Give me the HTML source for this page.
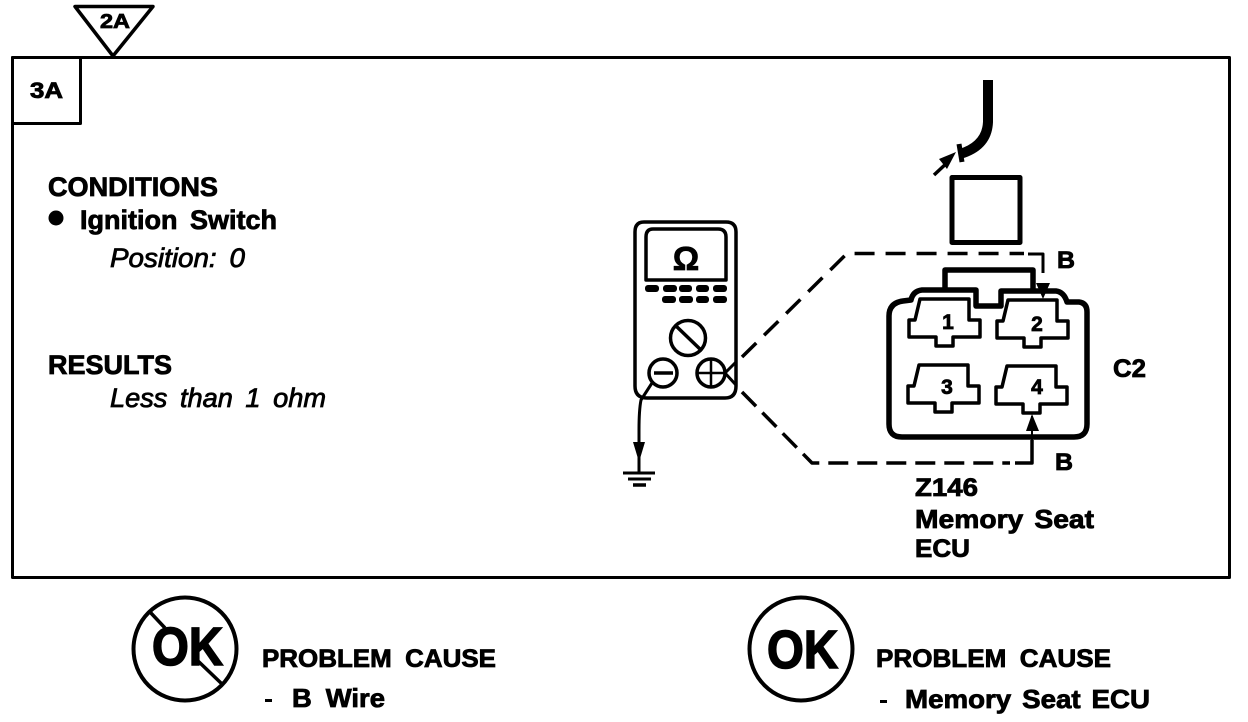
<!DOCTYPE html>
<html><head><meta charset="utf-8"><style>
html,body{margin:0;padding:0;background:#fff;width:1248px;height:722px;overflow:hidden}
svg{display:block}
text{font-family:"Liberation Sans",sans-serif;font-weight:bold;fill:#000;stroke:#000;stroke-width:.8}
.i{font-style:italic;font-weight:normal;stroke-width:.8}
.l{fill:none;stroke:#000;stroke-linejoin:round}
.ok{stroke:#000;stroke-width:1.6}
</style></head><body>
<svg width="1248" height="722" viewBox="0 0 1248 722">
<rect x="12.5" y="57.5" width="1217" height="520" class="l" stroke-width="3"/>
<rect x="12.5" y="57.5" width="68" height="66" class="l" stroke-width="3"/>
<path d="M75 6.5H153L113 56Z" class="l" stroke-width="3.5" style="fill:#fff"/>
<text x="100" y="28" font-size="20" textLength="30" lengthAdjust="spacingAndGlyphs">2A</text>
<text x="30" y="98" font-size="22" textLength="33" lengthAdjust="spacingAndGlyphs">3A</text>

<text x="48" y="196" font-size="27" textLength="170" lengthAdjust="spacingAndGlyphs">CONDITIONS</text>
<circle cx="56" cy="218" r="7.5"/>
<text x="80" y="229" font-size="27" word-spacing="5" textLength="197" lengthAdjust="spacingAndGlyphs">Ignition Switch</text>
<text x="110" y="267" font-size="27" class="i" word-spacing="5" textLength="135" lengthAdjust="spacingAndGlyphs">Position: 0</text>
<text x="48" y="374" font-size="27" textLength="124" lengthAdjust="spacingAndGlyphs">RESULTS</text>
<text x="110" y="407" font-size="27" class="i" word-spacing="5" textLength="216" lengthAdjust="spacingAndGlyphs">Less than 1 ohm</text>

<!-- meter -->
<path d="M644 222H726Q736 222 736 232V386Q736 398 725 398H647Q635 398 635 386V232Q635 222 644 222Z" class="l" stroke-width="3.5"/>
<path d="M653 229H718Q726 229 726 237V280H646V237Q646 229 653 229Z" class="l" stroke-width="3.5"/>
<text x="686" y="270" font-size="33" text-anchor="middle">Ω</text>
<g>
<rect x="645" y="285" width="14" height="7" rx="3"/><rect x="663" y="285" width="14" height="7" rx="3"/><rect x="679" y="285" width="13" height="7" rx="3"/><rect x="696" y="285" width="13" height="7" rx="3"/><rect x="713" y="285" width="14" height="7" rx="3"/>
<rect x="662" y="296" width="14" height="7" rx="3"/><rect x="679" y="296" width="14" height="7" rx="3"/><rect x="696" y="296" width="13" height="7" rx="3"/><rect x="713" y="296" width="14" height="7" rx="3"/>
</g>
<circle cx="688" cy="338" r="17.5" class="l" stroke-width="3.5"/>
<path d="M675 325L702 351" class="l" stroke-width="3.5"/>
<circle cx="663" cy="373" r="14" class="l" stroke-width="3.5"/>
<path d="M654 373H673" class="l" stroke-width="3.5"/>
<circle cx="711" cy="373" r="14" class="l" stroke-width="3.5"/>
<path d="M698 373H725M711 360V387" class="l" stroke-width="2.5"/>
<path d="M652 383L641 400Q639 410 639 430V473" class="l" stroke-width="3"/>
<path d="M633 442H645L639 462Z"/>
<path d="M623 473H655M628 479H651" class="l" stroke-width="3"/>
<path d="M633 485H646" class="l" stroke-width="3.5"/>

<!-- dashed connectors -->
<path d="M725 373L736 362M725 373L736 385" class="l" stroke-width="3"/>
<path d="M742 357L847 253.5H1024" class="l" stroke-width="3.5" stroke-dasharray="20 11"/>
<path d="M1028 254H1043V273" class="l" stroke-width="3"/>
<path d="M742 392L812 463H1010" class="l" stroke-width="3.5" stroke-dasharray="20 9"/>
<path d="M1015 463H1032V440" class="l" stroke-width="3.5"/>
<path d="M1032 440V416" class="l" stroke-width="2"/>
<path d="M1026 431H1039L1032 414Z"/>
<path d="M1036 283H1050L1043 299Z"/>
<text x="1057" y="268" font-size="24" textLength="18" lengthAdjust="spacingAndGlyphs">B</text>
<text x="1055" y="470" font-size="24" textLength="18" lengthAdjust="spacingAndGlyphs">B</text>
<text x="1113" y="377" font-size="25" textLength="33" lengthAdjust="spacingAndGlyphs">C2</text>

<!-- connector -->
<path d="M889 316Q889 303 903 301L911 300Q913 291 922 290H976V306H1001V291H1056Q1064 292 1067 302H1079Q1087 303 1087 312V424Q1087 437 1074 437H902Q889 437 889 424Z" class="l" stroke-width="5.5"/>
<path d="M945 290V270H1033V290" class="l" stroke-width="5.5"/>
<g class="l" stroke-width="3.5">
<path d="M920 299H969V320H980V337H953V346H936V337H909V320H915Z"/>
<path d="M1008 300H1057V321H1068V338H1041V347H1024V338H997V321H1003Z"/>
<path d="M919 365H968V386H979V403H952V412H935V403H908V386H914Z"/>
<path d="M1007 366H1056V387H1067V404H1040V413H1023V404H996V387H1002Z"/>
</g>
<text x="948" y="329" font-size="21" text-anchor="middle">1</text>
<text x="1037" y="331" font-size="21" text-anchor="middle">2</text>
<text x="947" y="394" font-size="21" text-anchor="middle">3</text>
<text x="1037" y="394" font-size="21" text-anchor="middle">4</text>

<!-- top plug -->
<path d="M988 80V122Q987 146 960 154" class="l" stroke-width="10"/>
<path d="M959 144L962 162" class="l" stroke-width="5"/>
<path d="M934 175L949 161" class="l" stroke-width="3.5"/>
<path d="M939 159L956 152L947 169Z"/>
<rect x="952" y="177.5" width="68" height="65" class="l" stroke-width="5"/>

<text x="915" y="496" font-size="25" textLength="63" lengthAdjust="spacingAndGlyphs">Z146</text>
<text x="915" y="528" font-size="26" word-spacing="3" textLength="179" lengthAdjust="spacingAndGlyphs">Memory Seat</text>
<text x="915" y="557" font-size="25" textLength="55" lengthAdjust="spacingAndGlyphs">ECU</text>

<!-- OK left -->
<circle cx="185" cy="649" r="51.5" class="l" stroke-width="4"/>
<path d="M150 612L165 628M198 661L222 684" class="l" stroke-width="3.5"/>
<text x="152" y="665" font-size="54" textLength="71" lengthAdjust="spacingAndGlyphs" class="ok">OK</text>
<text x="262" y="667" font-size="25" word-spacing="6" textLength="234" lengthAdjust="spacingAndGlyphs">PROBLEM CAUSE</text>
<rect x="265" y="699" width="7" height="3"/>
<text x="292" y="707" font-size="26" word-spacing="6" textLength="93" lengthAdjust="spacingAndGlyphs">B Wire</text>

<!-- OK right -->
<circle cx="801" cy="649" r="51.5" class="l" stroke-width="4"/>
<text x="767" y="668" font-size="54" textLength="71" lengthAdjust="spacingAndGlyphs" class="ok">OK</text>
<text x="876" y="667" font-size="25" word-spacing="6" textLength="235" lengthAdjust="spacingAndGlyphs">PROBLEM CAUSE</text>
<rect x="880" y="700" width="7" height="3"/>
<text x="905" y="708" font-size="26" word-spacing="3" textLength="245" lengthAdjust="spacingAndGlyphs">Memory Seat ECU</text>
</svg>
</body></html>
